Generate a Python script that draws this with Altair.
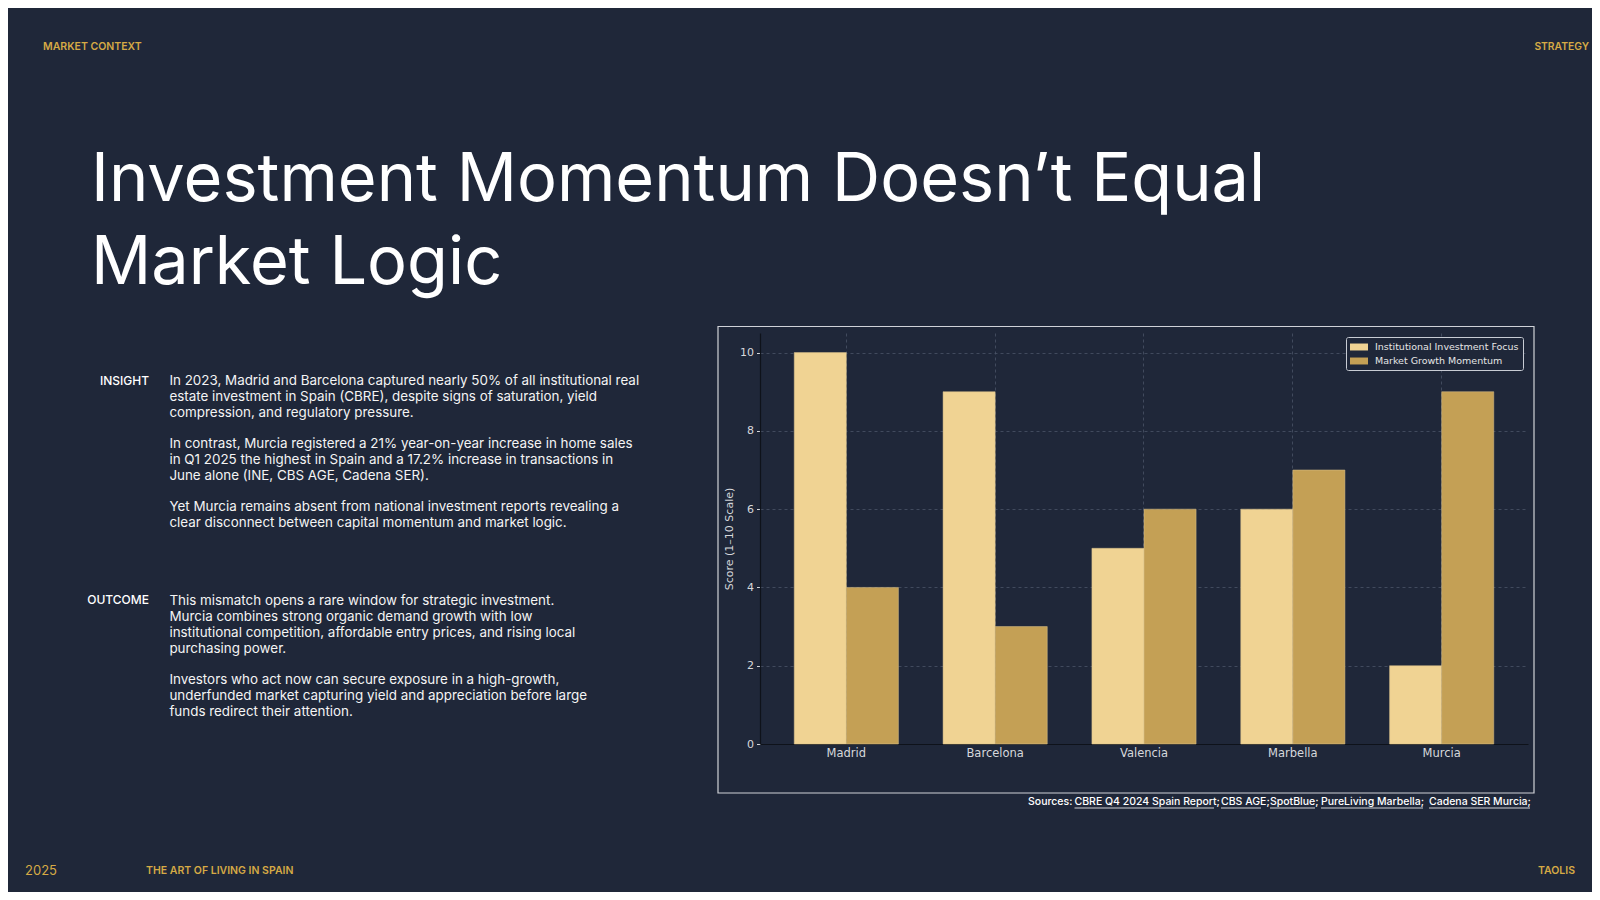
import altair as alt
import pandas as pd

# ---------------- data ----------------
cities = ["Madrid", "Barcelona", "Valencia", "Marbella", "Murcia"]
series = ["Institutional Investment Focus", "Market Growth Momentum"]
institutional = [10, 9, 5, 6, 2]
growth = [4, 3, 6, 7, 9]
y_ticks = [0, 2, 4, 6, 8, 10]

title_lines = ["Investment Momentum Doesn\u2019t Equal", "Market Logic"]
insight_paras = [
    "In 2023, Madrid and Barcelona captured nearly 50% of all institutional real\nestate investment in Spain (CBRE), despite signs of saturation, yield\ncompression, and regulatory pressure.",
    "In contrast, Murcia registered a 21% year-on-year increase in home sales\nin Q1 2025 the highest in Spain and a 17.2% increase in transactions in\nJune alone (INE, CBS AGE, Cadena SER).",
    "Yet Murcia remains absent from national investment reports revealing a\nclear disconnect between capital momentum and market logic.",
]
outcome_paras = [
    "This mismatch opens a rare window for strategic investment.\nMurcia combines strong organic demand growth with low\ninstitutional competition, affordable entry prices, and rising local\npurchasing power.",
    "Investors who act now can secure exposure in a high-growth,\nunderfunded market capturing yield and appreciation before large\nfunds redirect their attention.",
]
source_links = ["CBRE Q4 2024 Spain Report", "CBS AGE", "SpotBlue",
                "PureLiving Marbella", "Cadena SER Murcia"]

rows = []
for c, a, b in zip(cities, institutional, growth):
    rows.append({"city": c, "series": series[0], "value": a})
    rows.append({"city": c, "series": series[1], "value": b})
df = pd.DataFrame(rows)

# ---------------- style ----------------
BG = "#1f2739"
GOLD = "#d6aa45"
LIGHT = "#f0d393"
DARK = "#c4a055"
AXTXT = "#d6d8dc"
GRID = "#4a5367"
OX, OY = 760, 333          # page position of the plot origin
W, H = 768, 411


def txt(s, px, py, size, color="#ffffff", weight=400, align="left",
        baseline="middle", font="Inter", lh=None):
    kw = dict(font=font, fontSize=size, fontWeight=weight, color=color,
              align=align, baseline=baseline)
    if lh:
        kw.update(lineBreak="\n", lineHeight=lh)
    return alt.Chart(alt.Data(values=[{}])).mark_text(**kw).encode(
        x=alt.value(px - OX), y=alt.value(py - OY), text=alt.value(s))


def hrule(px1, px2, py, color="#ffffff", width=0.8):
    return alt.Chart(alt.Data(values=[{}])).mark_rule(
        color=color, strokeWidth=width).encode(
        x=alt.value(px1 - OX), x2=alt.value(px2 - OX), y=alt.value(py - OY))


frame = alt.Chart(alt.Data(values=[{}])).mark_rect(
    fillOpacity=0, stroke="#cfd2d8", strokeWidth=1.2).encode(
    x=alt.value(718 - OX), x2=alt.value(1534 - OX),
    y=alt.value(326.5 - OY), y2=alt.value(793 - OY))

bars = alt.Chart(df).mark_bar(stroke="#d8c08c", strokeWidth=0.5).encode(
    x=alt.X("city:N", sort=cities,
            scale=alt.Scale(paddingInner=0.3, paddingOuter=0.23),
            axis=alt.Axis(title=None, labelAngle=0, labelFont="DejaVu Sans",
                          labelFontSize=11.5, labelColor=AXTXT, ticks=False,
                          labelPadding=3, domainColor="#0e121a", domainWidth=1.2,
                          grid=True, gridColor=GRID, gridDash=[3, 3],
                          gridWidth=0.8, bandPosition=0.5)),
    xOffset=alt.XOffset("series:N", sort=series),
    y=alt.Y("value:Q", scale=alt.Scale(domain=[0, 10.5], nice=False),
            axis=alt.Axis(values=y_ticks, title="Score (1\u201310 Scale)",
                          titleFont="DejaVu Sans", titleFontSize=11,
                          titleFontWeight="normal", titleColor=AXTXT,
                          titlePadding=5, labelFont="DejaVu Sans",
                          labelFontSize=11, labelColor=AXTXT, tickColor=AXTXT,
                          tickSize=3.5, labelPadding=3, domainColor="#0e121a",
                          domainWidth=1.2, grid=True, gridColor=GRID,
                          gridDash=[3, 3], gridWidth=0.8)),
    color=alt.Color("series:N", sort=series,
                    scale=alt.Scale(domain=series, range=[LIGHT, DARK]),
                    legend=alt.Legend(orient="none", legendX=586, legendY=4,
                                      title=None, direction="vertical",
                                      fillColor=BG, strokeColor="#c8ccd4",
                                      padding=4, cornerRadius=2,
                                      labelColor="#e6e6e6",
                                      labelFont="DejaVu Sans",
                                      labelFontSize=9.5,
                                      symbolType="M-1,-0.58H2V0.58H-1Z",
                                      symbolSize=144, symbolStrokeWidth=0,
                                      rowPadding=3, labelOffset=13)),
)

layers = [frame, bars]

# header / footer
layers += [
    txt("MARKET CONTEXT", 43, 47, 10.5, GOLD, 600),
    txt("STRATEGY", 1589, 47, 10.3, GOLD, 600, align="right"),
    txt("2025", 25, 871, 13, GOLD, 400),
    txt("THE ART OF LIVING IN SPAIN", 146, 871, 10.5, GOLD, 600),
    txt("TAOLIS", 1575, 871, 10.5, GOLD, 600, align="right"),
]

# title
layers += [
    txt(title_lines[0], 91, 200.7, 66.7, "#ffffff", 400, baseline="alphabetic"),
    txt(title_lines[1], 91, 284, 66.7, "#ffffff", 400, baseline="alphabetic"),
]

# body
LH = 15.9
BS = 13.4
layers += [
    txt("INSIGHT", 149, 381, 12, "#ffffff", 500, align="right"),
    txt(insight_paras[0], 169.4, 381, BS, "#f4f4f4", 400, lh=LH),
    txt(insight_paras[1], 169.4, 444, BS, "#f4f4f4", 400, lh=LH),
    txt(insight_paras[2], 169.4, 507.3, BS, "#f4f4f4", 400, lh=LH),
    txt("OUTCOME", 149, 600, 12, "#ffffff", 500, align="right"),
    txt(outcome_paras[0], 169.4, 601.3, BS, "#f4f4f4", 400, lh=LH),
    txt(outcome_paras[1], 169.4, 680, BS, "#f4f4f4", 400, lh=LH),
]

# sources line (each link underlined)
src_pos = [(1074.5, 1214), (1221, 1261), (1270, 1315), (1321, 1423), (1429, 1530)]
layers.append(txt("Sources:", 1028, 802, 10.5, "#ffffff", 500))
for name, (a, b) in zip(source_links, src_pos):
    layers.append(txt(name + ";", a, 802, 10.5, "#ffffff", 500))
    layers.append(hrule(a, b, 808))

chart = alt.layer(*layers).properties(
    width=W, height=H,
    padding={"left": OX - 8, "top": OY - 8, "right": 1584 - (OX - 8) - W,
             "bottom": 884 - (OY - 8) - H},
    autosize=alt.AutoSizeParams(type="none"),
).configure(background=BG).configure_view(strokeWidth=0)

chart.save("out.html", embed_options={"renderer": "svg", "actions": False})
